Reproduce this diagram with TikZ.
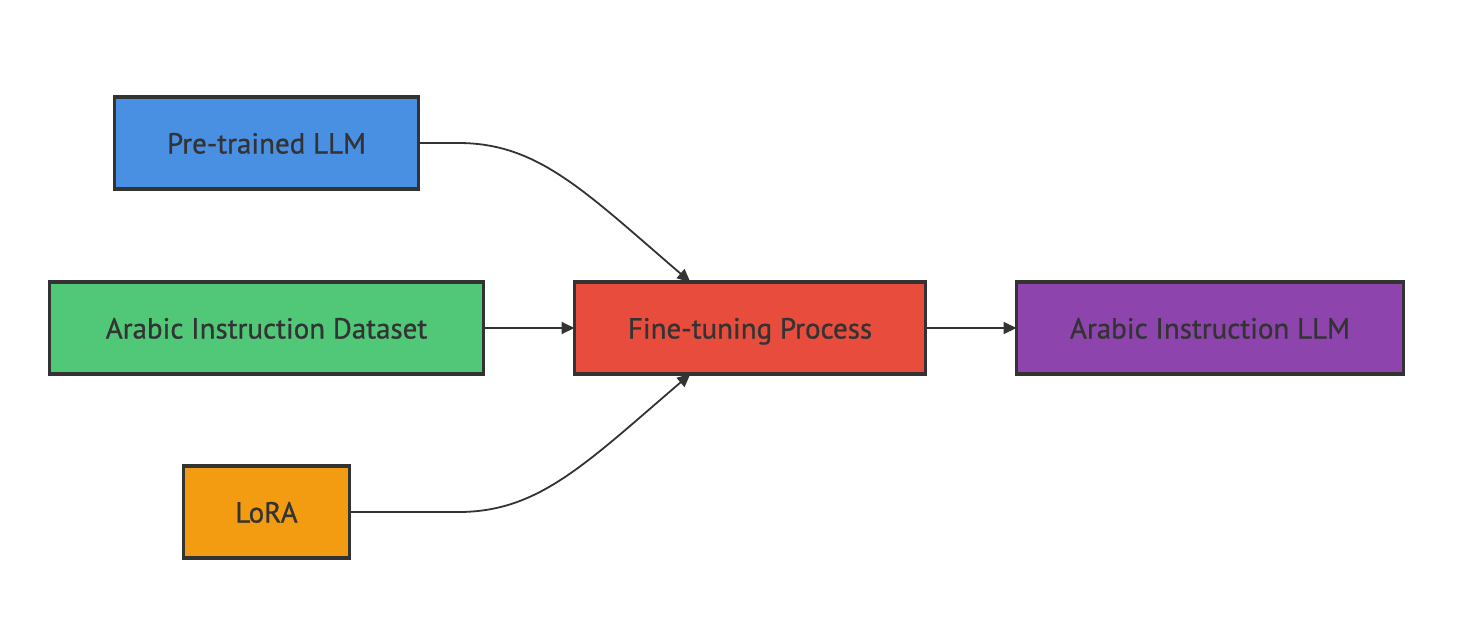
\documentclass[tikz,border=0pt]{standalone}
\usepackage{fontspec}
\setmainfont{PT Sans}[FakeBold=0.8]
\usetikzlibrary{arrows.meta,calc}
\definecolor{ink}{HTML}{333333}
\definecolor{cblue}{HTML}{4A90E2}
\definecolor{cgreen}{HTML}{50C878}
\definecolor{corange}{HTML}{F39C12}
\definecolor{cred}{HTML}{E74C3C}
\definecolor{cpurple}{HTML}{8E44AD}
\tikzset{
  box/.style={draw=ink, line width=3.2pt, inner sep=0pt, outer sep=0pt,
    minimum height=92pt, text=ink, font=\fontsize{29}{34}\selectfont,
    text height=21pt, text depth=0pt},
  link/.style={draw=ink, line width=1.8pt, -{Triangle[length=13pt,width=12pt]}}
}
\begin{document}
\begin{tikzpicture}[x=1pt,y=-1pt]
\useasboundingbox (0,0) rectangle (1461,638);
\node[box, fill=cblue, minimum width=304pt] (pre) at (266.5,143) {Pre-trained LLM};
\node[box, fill=cgreen, minimum width=434pt] (ds) at (266.5,328) {Arabic Instruction Dataset};
\node[box, fill=corange, minimum width=166pt] (lora) at (266.5,512) {LoRA};
\node[box, fill=cred, minimum width=351pt] (ft) at (750,328) {Fine-tuning Process};
\node[box, fill=cpurple, minimum width=387pt] (out) at (1210,328) {Arabic Instruction LLM};
\coordinate (ftTop) at ($(ft.north west)!0.33!(ft.north east)$);
\coordinate (ftBot) at ($(ft.south west)!0.33!(ft.south east)$);
\coordinate (preBend) at ($(pre.east)+(40,0)$);
\coordinate (loraBend) at ($(lora.east)+(109,0)$);
\draw[link] (pre.east) -- (preBend) .. controls ($(preBend)+(80,0)$) and ($(ftTop)+(-105,-90)$) .. (ftTop);
\draw[link] (lora.east) -- (loraBend) .. controls ($(loraBend)+(80,0)$) and ($(ftBot)+(-105,90)$) .. (ftBot);
\draw[link] (ds.east) -- (ft.west);
\draw[link] (ft.east) -- (out.west);
\end{tikzpicture}
\end{document}
